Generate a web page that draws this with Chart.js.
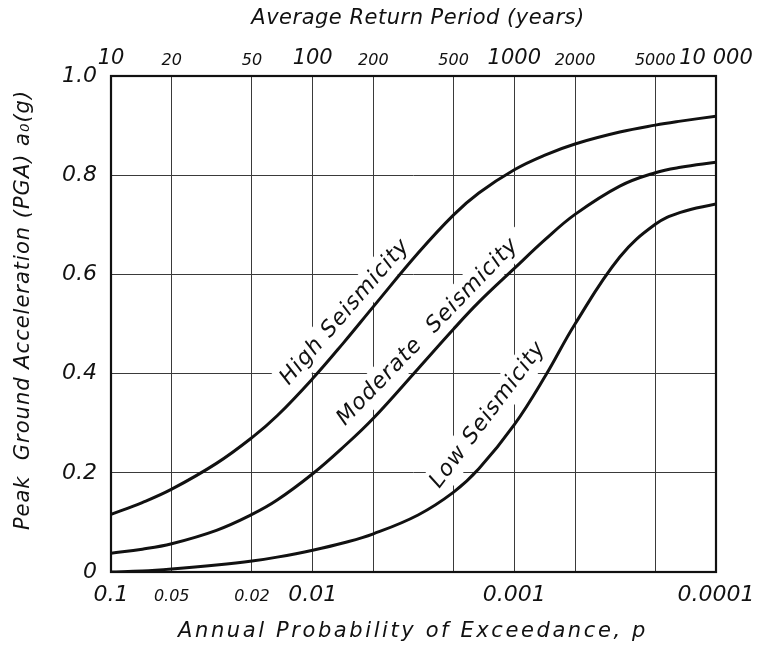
<!DOCTYPE html>
<html>
<head>
<meta charset="utf-8">
<script src="https://cdn.jsdelivr.net/npm/chart.js@4.4.1/dist/chart.umd.min.js"></script>
<style>
  html,body{margin:0;padding:0;background:#fff;}
  #wrap{width:771px;height:655px;position:relative;}
</style>
</head>
<body>
<div id="wrap"><canvas id="c" width="771" height="655"></canvas></div>
<script>
// ---- data ----
const probabilities = [0.1, 0.07, 0.05, 0.03, 0.02, 0.015, 0.01, 0.007, 0.005, 0.003, 0.002, 0.0015, 0.001, 0.0007, 0.0005, 0.0003, 0.0002, 0.00015, 0.0001];
const highSeismicity     = [0.116, 0.140, 0.167, 0.219, 0.271, 0.315, 0.390, 0.463, 0.535, 0.643, 0.720, 0.764, 0.811, 0.841, 0.863, 0.887, 0.901, 0.909, 0.919];
const moderateSeismicity = [0.038, 0.046, 0.057, 0.084, 0.116, 0.145, 0.198, 0.253, 0.310, 0.410, 0.490, 0.544, 0.612, 0.671, 0.721, 0.778, 0.805, 0.816, 0.826];
const lowSeismicity      = [0.000, 0.002, 0.006, 0.014, 0.022, 0.030, 0.044, 0.059, 0.077, 0.115, 0.161, 0.208, 0.297, 0.396, 0.500, 0.635, 0.701, 0.725, 0.742];

const probTicks = [0.1, 0.05, 0.02, 0.01, 0.005, 0.002, 0.001, 0.0005, 0.0002, 0.0001];
const probTickLabels = ['0.1', '0.05', '0.02', '0.01', '', '', '0.001', '', '', '0.0001'];
const periodTicks = [10, 20, 50, 100, 200, 500, 1000, 2000, 5000, 10000];
const periodTickLabels = ['10', '20', '50', '100', '200', '500', '1000', '2000', '5000', '10 000'];
const pgaTicks = [0, 0.2, 0.4, 0.6, 0.8, 1.0];
const pgaTickLabels = ['0', '0.2', '0.4', '0.6', '0.8', '1.0'];

const curveLabels = [
  {text: 'High Seismicity', p: 0.0069, v: 0.524, angle: -49},
  {text: 'Moderate  Seismicity', p: 0.00268, v: 0.484, angle: -46},
  {text: 'Low Seismicity', p: 0.00135, v: 0.317, angle: -53}
];
const xTitle = 'Annual Probability of Exceedance, p';
const topTitle = 'Average Return Period (years)';
const yTitle = 'Peak  Ground Acceleration (PGA) a\u2080(g)';

// ---- chart ----
const FONT = '"DejaVu Sans", "Liberation Sans", sans-serif';
const INK = '#111';
const GRID = '#3a3a3a';

function toPts(vals){ return probabilities.map((p,i)=>({x:p, y:vals[i]})); }

const textPlugin = {
  id: 'textPlugin',
  beforeDatasetsDraw(chart){
    const ctx = chart.ctx;
    const xs = chart.scales.x, ys = chart.scales.y;
    ctx.save();
    ctx.font = 'italic 22px ' + FONT;
    ctx.letterSpacing = '1px';
    ctx.textAlign = 'center';
    ctx.textBaseline = 'middle';
    curveLabels.forEach(l => {
      const px = xs.getPixelForValue(l.p), py = ys.getPixelForValue(l.v);
      ctx.save();
      ctx.translate(px, py);
      ctx.rotate(l.angle * Math.PI / 180);
      const w = ctx.measureText(l.text).width;
      ctx.fillStyle = '#fff';
      ctx.fillRect(-w/2 - 10, -15, w + 20, 30);
      ctx.fillStyle = INK;
      ctx.fillText(l.text, 0, 0);
      ctx.restore();
    });
    ctx.restore();
  },
  afterDraw(chart){
    const ctx = chart.ctx;
    const a = chart.chartArea;
    ctx.save();
    ctx.strokeStyle = INK;
    ctx.lineWidth = 2.2;
    ctx.strokeRect(a.left, a.top, a.right - a.left, a.bottom - a.top);
    ctx.fillStyle = INK;
    ctx.font = 'italic 21px ' + FONT;
    ctx.letterSpacing = '2.6px';
    ctx.textAlign = 'center';
    ctx.textBaseline = 'middle';
    ctx.fillText(xTitle, 413, 632);
    ctx.letterSpacing = '0.5px';
    ctx.fillText(topTitle, 418, 19);
    ctx.save();
    ctx.translate(24, 310);
    ctx.rotate(-Math.PI/2);
    ctx.letterSpacing = '1px';
    ctx.fillText(yTitle, 0, 0);
    ctx.restore();
    ctx.restore();
  }
};

const lineDs = (label, vals) => ({
  label, data: toPts(vals),
  borderColor: INK, backgroundColor: INK,
  borderWidth: 3, pointRadius: 0,
  tension: 0.4, fill: false, xAxisID: 'x', yAxisID: 'y'
});

new Chart(document.getElementById('c'), {
  type: 'line',
  data: {
    datasets: [
      lineDs('High Seismicity', highSeismicity),
      lineDs('Moderate Seismicity', moderateSeismicity),
      lineDs('Low Seismicity', lowSeismicity)
    ]
  },
  options: {
    responsive: false,
    animation: false,
    events: [],
    layout: {padding: {left: 0, right: 55, top: 0, bottom: 0}},
    plugins: {legend: {display: false}, tooltip: {enabled: false}, title: {display: false}},
    scales: {
      x: {
        type: 'logarithmic', position: 'bottom', reverse: true,
        min: 0.0001, max: 0.1,
        afterBuildTicks: s => { s.ticks = probTicks.map(v => ({value: v})); },
        afterFit: s => { s.height = 83; },
        grid: {color: GRID, lineWidth: 1, drawTicks: false},
        border: {display: false},
        ticks: {
          autoSkip: false, maxRotation: 0, padding: 12, color: INK,
          callback: (v) => probTickLabels[probTicks.indexOf(v)] ?? '',
          font: c => {
            const v = c.tick ? c.tick.value : 0;
            const small = (v === 0.05 || v === 0.02);
            return small ? {family: FONT, style: 'italic', size: 16, lineHeight: '26px'}
                         : {family: FONT, style: 'italic', size: 22, lineHeight: '22px'};
          }
        }
      },
      x2: {
        type: 'logarithmic', position: 'top',
        min: 10, max: 10000,
        afterBuildTicks: s => { s.ticks = periodTicks.map(v => ({value: v})); },
        afterFit: s => { s.height = 76; },
        grid: {display: false, drawTicks: false},
        border: {display: false},
        ticks: {
          autoSkip: false, maxRotation: 0, padding: 6, color: INK,
          callback: (v) => periodTickLabels[periodTicks.indexOf(v)] ?? '',
          font: c => {
            const v = c.tick ? c.tick.value : 10;
            const big = (v === 10 || v === 100 || v === 1000 || v === 10000);
            return big ? {family: FONT, style: 'italic', size: 21, lineHeight: '22px'}
                       : {family: FONT, style: 'italic', size: 16, lineHeight: '18px'};
          }
        }
      },
      y: {
        type: 'linear', position: 'left',
        min: 0, max: 1.0,
        afterBuildTicks: s => { s.ticks = pgaTicks.map(v => ({value: v})); },
        afterFit: s => { s.width = 111; },
        grid: {color: GRID, lineWidth: 1, drawTicks: false},
        border: {display: false},
        ticks: {
          padding: 14, color: INK,
          callback: (v) => { const i = pgaTicks.findIndex(t => Math.abs(t - v) < 1e-9); return i >= 0 ? pgaTickLabels[i] : ''; },
          font: {family: FONT, style: 'italic', size: 22}
        }
      }
    }
  },
  plugins: [textPlugin]
});
</script>
</body>
</html>
